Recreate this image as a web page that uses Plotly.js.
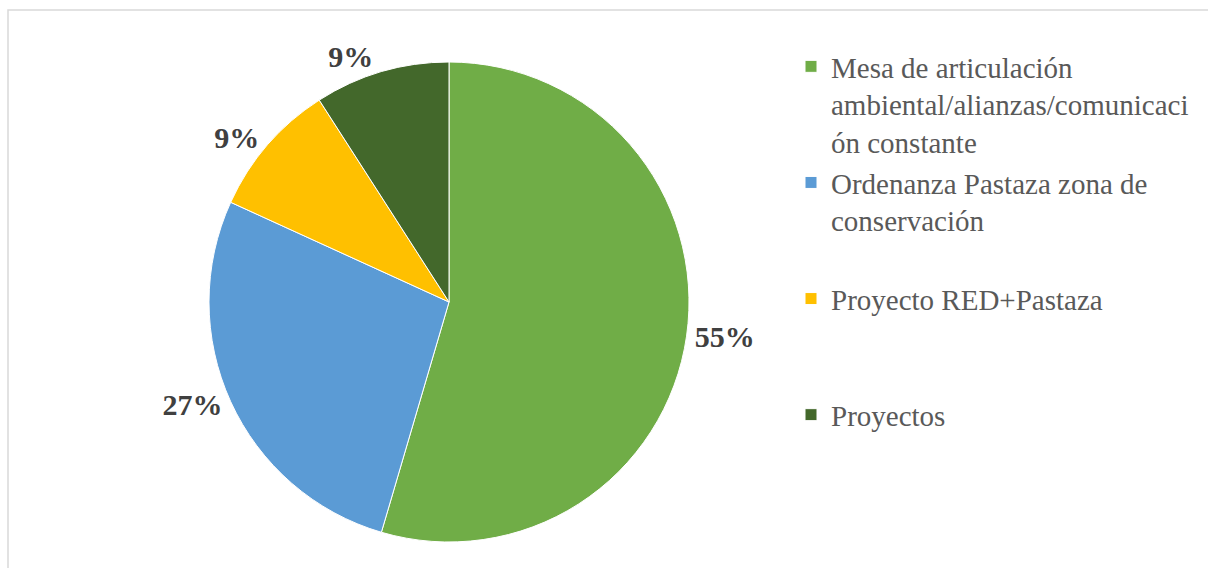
<!DOCTYPE html>
<html>
<head>
<meta charset="utf-8">
<script src="https://cdn.plot.ly/plotly-3.0.1.min.js"></script>
<style>html,body{margin:0;padding:0;background:#fff;}#chart{width:1208px;height:568px;}</style>
</head>
<body>
<div id="chart"></div>
<script>
// Data
var categories = [
  "Mesa de articulación<br>ambiental/alianzas/comunicaci<br>ón constante",
  "Ordenanza Pastaza zona de<br>conservación<br> ",
  "Proyecto RED+Pastaza<br> <br> ",
  "Proyectos"
];
var values = [6, 3, 1, 1];
var sliceColors = ["#70AD47", "#5B9BD5", "#FFC000", "#43682B"];

var W = 1208, H = 568;
var labelFont = {family: "Liberation Serif", size: 30, color: "#404040", weight: "bold"};

var trace = {
  type: "pie",
  labels: categories,
  values: values,
  sort: false,
  direction: "clockwise",
  rotation: 0,
  marker: {colors: sliceColors, line: {color: "#ffffff", width: 1}},
  texttemplate: "<b>%{percent:.0%}</b>",
  textposition: "outside",
  textfont: labelFont,
  outsidetextfont: labelFont,
  domain: {x: [209 / W, 689 / W], y: [26 / H, 506 / H]},
  hoverinfo: "label+percent"
};

var layout = {
  width: W,
  height: H,
  margin: {l: 0, r: 0, t: 0, b: 0},
  paper_bgcolor: "#ffffff",
  font: {family: "Liberation Serif"},
  showlegend: true,
  legend: {
    x: 791 / W,
    y: 1 - 41 / H,
    xanchor: "left",
    yanchor: "top",
    valign: "top",
    font: {family: "Liberation Serif", size: 29, color: "#595959"},
    itemwidth: 30,
    bgcolor: "rgba(0,0,0,0)"
  },
  shapes: [{
    type: "rect",
    xref: "paper", yref: "paper",
    x0: 8 / W, x1: 1.02, y0: -0.02, y1: 1 - 10 / H,
    line: {color: "#d9d9d9", width: 1.5},
    fillcolor: "rgba(0,0,0,0)",
    layer: "below"
  }]
};

Plotly.newPlot("chart", [trace], layout, {displayModeBar: false, staticPlot: true});
</script>
</body>
</html>
